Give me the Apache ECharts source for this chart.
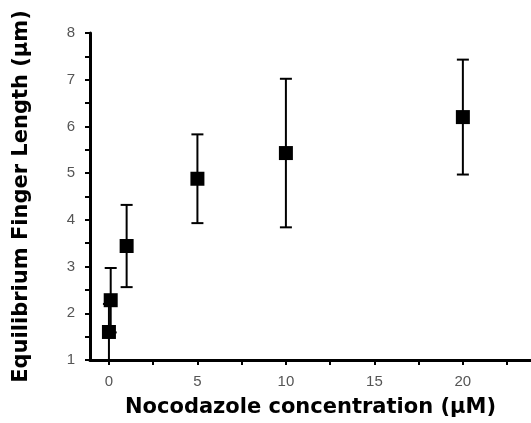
<!DOCTYPE html>
<html>
<head>
    <meta charset="utf-8">
    <style>
        html, body { height: 100%; }
        * { margin: 0; padding: 0; }
        #container { width: 531px; height: 423px; background: #fff; }
    </style>
</head>
<body>
<div id="container"></div>
<script type="text/javascript" src="https://cdn.jsdelivr.net/npm/echarts/dist/echarts.min.js"></script>
<script type="text/javascript">
    // concentration (µM), mean length (µm), error (+/-)
    let conc = [0, 0.1, 1, 5, 10, 20];
    let length = [1.6, 2.28, 3.44, 4.88, 5.43, 6.2];
    let errs = [0.6, 0.69, 0.88, 0.95, 1.59, 1.23];
    let xLabels = [0, 5, 10, 15, 20];
    let xTicks = [0, 2.5, 5, 7.5, 10, 12.5, 15, 17.5, 20, 22.5];
    let yLabels = [1, 2, 3, 4, 5, 6, 7, 8];
    let yTicks = [1, 1.5, 2, 2.5, 3, 3.5, 4, 4.5, 5, 5.5, 6, 6.5, 7, 7.5, 8];

    let points = conc.map((c, i) => [c, length[i]]);
    let bars = conc.map((c, i) => [c, length[i] - errs[i], length[i] + errs[i]]);

    let dom = document.getElementById("container");
    let myChart = echarts.init(dom);

    let labelFont = { fontFamily: 'Liberation Sans', fontSize: 15, color: '#555' };
    let nameFont = { fontFamily: 'DejaVu Sans', fontSize: 21, fontWeight: 'bold', color: '#000' };

    let option = {
        animation: false,
        grid: { left: 90, right: 0, top: 33, bottom: 62 },
        xAxis: {
            type: 'value',
            min: -1.07,
            max: 23.85,
            name: 'Nocodazole concentration (µM)',
            nameLocation: 'middle',
            nameGap: 37,
            nameTextStyle: nameFont,
            axisLine: { onZero: false, lineStyle: { color: '#000', width: 3 } },
            axisTick: { length: 5, lineStyle: { color: '#000', width: 2 }, customValues: xTicks },
            axisLabel: Object.assign({ margin: 14, customValues: xLabels }, labelFont),
            splitLine: { show: false }
        },
        yAxis: {
            type: 'value',
            min: 1,
            max: 8,
            name: 'Equilibrium Finger Length (µm)',
            nameLocation: 'middle',
            nameGap: 58,
            nameTextStyle: nameFont,
            axisLine: { show: true, onZero: false, lineStyle: { color: '#000', width: 3 } },
            axisTick: { show: true, length: 5, lineStyle: { color: '#000', width: 2 }, customValues: yTicks },
            axisLabel: Object.assign({ margin: 15, customValues: yLabels }, labelFont),
            splitLine: { show: false }
        },
        series: [
            {
                type: 'custom',
                data: bars,
                z: 1,
                renderItem: function (params, api) {
                    let x = api.value(0);
                    let lo = api.coord([x, api.value(1)]);
                    let hi = api.coord([x, api.value(2)]);
                    let w = 6;
                    let style = { stroke: '#000', lineWidth: 2 };
                    return {
                        type: 'group',
                        children: [
                            { type: 'line', shape: { x1: lo[0], y1: lo[1], x2: hi[0], y2: hi[1] }, style: style },
                            { type: 'line', shape: { x1: hi[0] - w, y1: hi[1], x2: hi[0] + w, y2: hi[1] }, style: style },
                            { type: 'line', shape: { x1: lo[0] - w, y1: lo[1], x2: lo[0] + w, y2: lo[1] }, style: style }
                        ]
                    };
                }
            },
            {
                type: 'scatter',
                data: points,
                z: 2,
                symbol: 'rect',
                symbolSize: 14,
                itemStyle: { color: '#000', opacity: 1 }
            }
        ]
    };
    myChart.setOption(option);
</script>
</body>
</html>
